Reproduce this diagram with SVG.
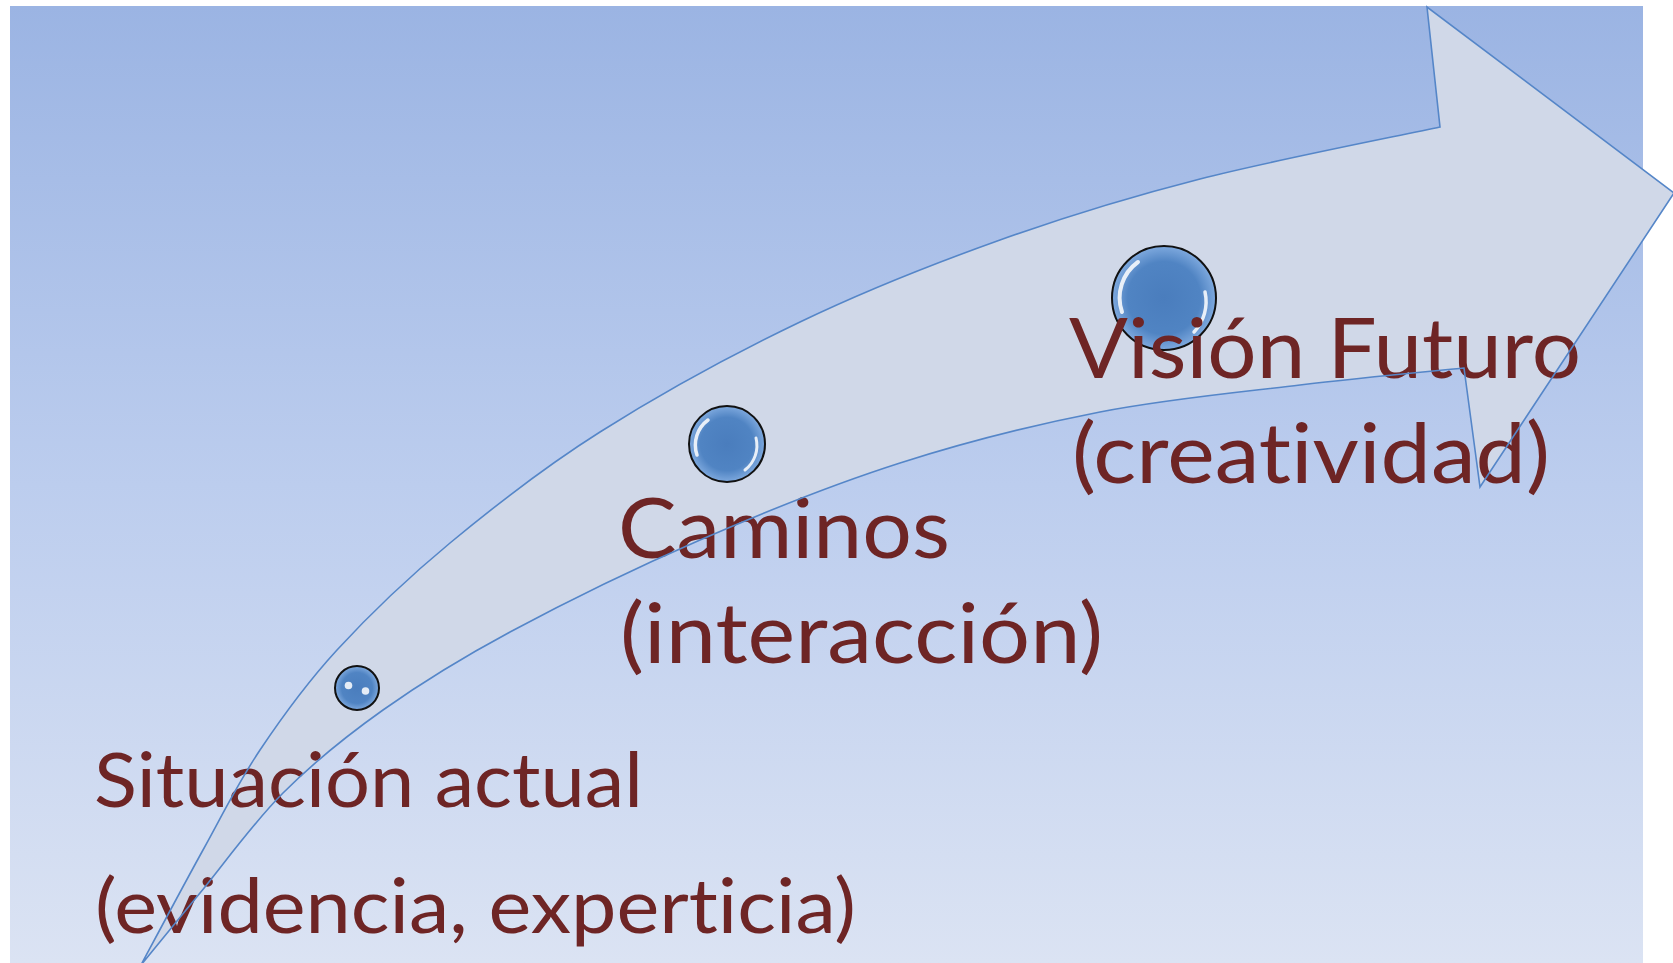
<svg xmlns="http://www.w3.org/2000/svg" xmlns:xlink="http://www.w3.org/1999/xlink" width="1673" height="963" viewBox="0 0 1673 963">
  <style>
    .lbl { font-family: Lato, "Open Sans", "Liberation Sans", sans-serif; fill: #6e2525; font-variant-ligatures: none; font-feature-settings: "liga" 0, "clig" 0, "dlig" 0; }
    .big { font-size: 84px; }
    .small { font-size: 76px; }
    .ring { stroke: #111; stroke-width: 2; fill: url(#ball); }
    .hl { fill: none; stroke: #ffffff; stroke-linecap: round; opacity: 0.85; }
    .outline { fill: none; stroke: #5586c8; stroke-width: 1.6; stroke-linejoin: miter; }
  </style>
  <defs>
    <linearGradient id="bg" x1="0" y1="0" x2="0" y2="1">
      <stop offset="0" stop-color="#9bb4e3"/>
      <stop offset="0.5" stop-color="#bccdee"/>
      <stop offset="1" stop-color="#dbe3f3"/>
    </linearGradient>
    <radialGradient id="ball" cx="0.5" cy="0.5" r="0.5">
      <stop offset="0" stop-color="#4a7dbd"/>
      <stop offset="0.7" stop-color="#5084c3"/>
      <stop offset="1" stop-color="#7ea9de"/>
    </radialGradient>
    <path id="arrowShape" d="M141,965 C151.3,945.8 183.2,885.8 203,850 C222.8,814.2 237.7,783.3 260,750 C282.3,716.7 305.3,684.5 337,650 C368.7,615.5 406.2,579.3 450,543 C493.8,506.7 541.7,468.8 600,432 C658.3,395.2 733.3,354 800,322 C866.7,290 933.3,263.8 1000,240 C1066.7,216.2 1126.7,197.8 1200,179 C1273.3,160.2 1400,135.7 1440,127 L1427,7 L1674,193 L1480,487 L1464,368 C1436.7,370.8 1360.7,377.7 1300,385 C1239.3,392.3 1166.7,399 1100,412 C1033.3,425 966.7,441.7 900,463 C833.3,484.3 765,511.8 700,540 C635,568.2 562.8,603.7 510,632 C457.2,660.3 420.8,683.2 383,710 C345.2,736.8 313.5,762.5 283,793 C252.5,823.5 223.7,864.3 200,893 C176.3,921.7 150.8,953 141,965 Z"/>
  </defs>

  <rect x="0" y="0" width="1673" height="963" fill="#ffffff"/>
  <rect id="background" x="10" y="6" width="1633" height="957" fill="url(#bg)"/>

  <g id="connectors">
    <use xlink:href="#arrowShape" href="#arrowShape" fill="#d0d8e8" stroke="none"/>
  </g>

  <g id="node-situacion">
    <circle class="ring" cx="357" cy="688" r="22"/>
    <circle cx="348.5" cy="685.5" r="3.8" fill="#ffffff" opacity="0.85"/>
    <circle cx="365.5" cy="691" r="3.8" fill="#ffffff" opacity="0.85"/>
    <text class="lbl small" x="94" y="807" textLength="549" lengthAdjust="spacingAndGlyphs">Situación actual</text>
    <text class="lbl small" x="95" y="933" textLength="761" lengthAdjust="spacingAndGlyphs">(evidencia, experticia)</text>
  </g>

  <g id="node-caminos">
    <circle class="ring" cx="727" cy="444" r="38"/>
    <path class="hl" stroke-width="3.5" d="M697,455 A31,31 0 0 1 708,420"/>
    <path class="hl" stroke-width="3" d="M756,438 A31,31 0 0 1 745,470"/>
    <text class="lbl big" x="618" y="558" textLength="332" lengthAdjust="spacingAndGlyphs">Caminos</text>
    <text class="lbl big" x="620" y="663" textLength="483" lengthAdjust="spacingAndGlyphs">(interacción)</text>
  </g>

  <g id="node-vision">
    <circle class="ring" cx="1164" cy="298" r="52"/>
    <path class="hl" stroke-width="4" d="M1122,312 A44,44 0 0 1 1138,262"/>
    <path class="hl" stroke-width="3.5" d="M1205,292 A44,44 0 0 1 1194,332"/>
    <text class="lbl big" x="1069" y="378" textLength="512" lengthAdjust="spacingAndGlyphs">Visión Futuro</text>
    <text class="lbl big" x="1072" y="483" textLength="478" lengthAdjust="spacingAndGlyphs">(creatividad)</text>
  </g>

  <g id="arrow-outline">
    <use xlink:href="#arrowShape" href="#arrowShape" class="outline"/>
  </g>
</svg>
